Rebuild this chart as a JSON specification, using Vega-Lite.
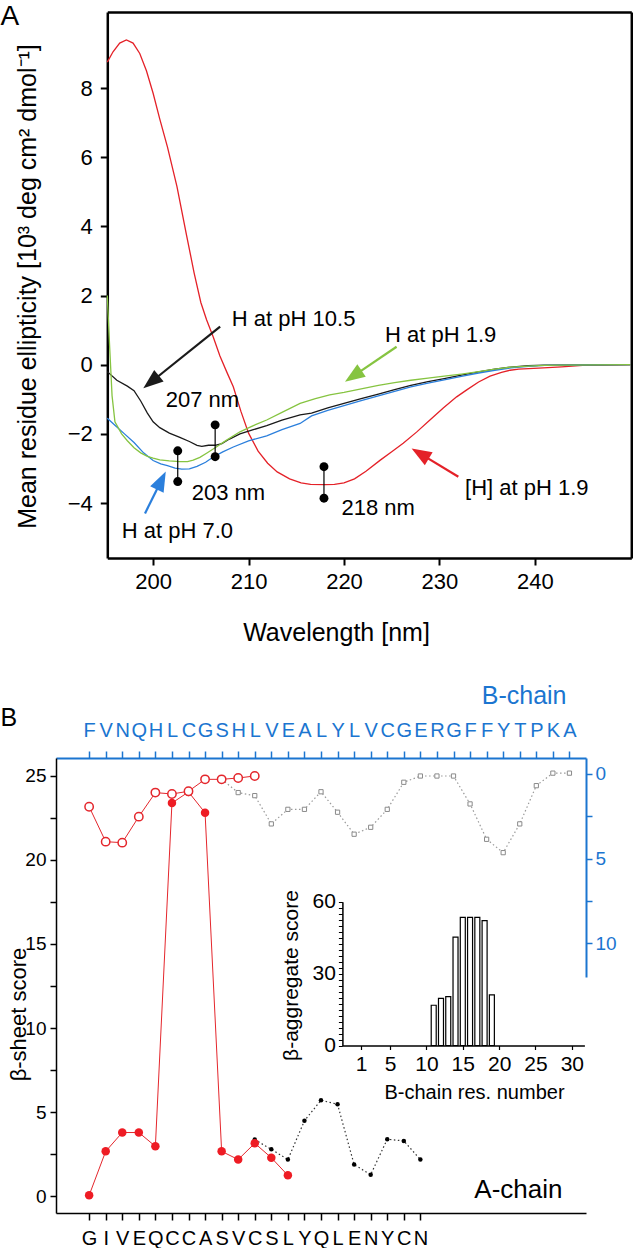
{
  "$schema": "https://vega.github.io/schema/vega-lite/v6.json",
  "padding": {"top": 2, "left": 0, "right": 0, "bottom": 0},
  "background": "white",
  "config": {
    "font": "Liberation Sans",
    "view": {"stroke": null},
    "axis": {"grid": false, "titleFontWeight": "normal", "labelColor": "black", "titleColor": "black", "tickColor": "black", "domainColor": "black", "labelOverlap": false, "labelFlush": false},
    "title": {"fontWeight": "normal", "color": "black"}
  },
  "datasets": {
    "cd": [
      {"wl":195.2,"mre":8.75,"s":"[H] at pH 1.9"},{"wl":195.8,"mre":9.05,"s":"[H] at pH 1.9"},{"wl":196.5,"mre":9.3,"s":"[H] at pH 1.9"},{"wl":197.2,"mre":9.39,"s":"[H] at pH 1.9"},{"wl":197.9,"mre":9.3,"s":"[H] at pH 1.9"},{"wl":198.6,"mre":9.0,"s":"[H] at pH 1.9"},{"wl":199.3,"mre":8.5,"s":"[H] at pH 1.9"},{"wl":200.0,"mre":7.85,"s":"[H] at pH 1.9"},{"wl":200.7,"mre":7.1,"s":"[H] at pH 1.9"},{"wl":201.5,"mre":6.3,"s":"[H] at pH 1.9"},{"wl":202.5,"mre":5.15,"s":"[H] at pH 1.9"},{"wl":203.5,"mre":3.75,"s":"[H] at pH 1.9"},{"wl":204.3,"mre":2.65,"s":"[H] at pH 1.9"},{"wl":205.0,"mre":1.8,"s":"[H] at pH 1.9"},{"wl":205.6,"mre":1.3,"s":"[H] at pH 1.9"},{"wl":206.3,"mre":0.8,"s":"[H] at pH 1.9"},{"wl":207.0,"mre":0.25,"s":"[H] at pH 1.9"},{"wl":207.7,"mre":-0.2,"s":"[H] at pH 1.9"},{"wl":208.4,"mre":-0.64,"s":"[H] at pH 1.9"},{"wl":209.2,"mre":-1.35,"s":"[H] at pH 1.9"},{"wl":210.0,"mre":-1.98,"s":"[H] at pH 1.9"},{"wl":211.0,"mre":-2.5,"s":"[H] at pH 1.9"},{"wl":212.0,"mre":-2.85,"s":"[H] at pH 1.9"},{"wl":213.0,"mre":-3.1,"s":"[H] at pH 1.9"},{"wl":214.3,"mre":-3.3,"s":"[H] at pH 1.9"},{"wl":215.5,"mre":-3.42,"s":"[H] at pH 1.9"},{"wl":216.5,"mre":-3.46,"s":"[H] at pH 1.9"},{"wl":218.0,"mre":-3.47,"s":"[H] at pH 1.9"},{"wl":219.0,"mre":-3.46,"s":"[H] at pH 1.9"},{"wl":220.0,"mre":-3.42,"s":"[H] at pH 1.9"},{"wl":221.1,"mre":-3.3,"s":"[H] at pH 1.9"},{"wl":222.3,"mre":-3.08,"s":"[H] at pH 1.9"},{"wl":223.8,"mre":-2.76,"s":"[H] at pH 1.9"},{"wl":225.0,"mre":-2.52,"s":"[H] at pH 1.9"},{"wl":226.2,"mre":-2.27,"s":"[H] at pH 1.9"},{"wl":227.6,"mre":-1.95,"s":"[H] at pH 1.9"},{"wl":229.0,"mre":-1.6,"s":"[H] at pH 1.9"},{"wl":230.4,"mre":-1.25,"s":"[H] at pH 1.9"},{"wl":231.8,"mre":-0.93,"s":"[H] at pH 1.9"},{"wl":232.9,"mre":-0.72,"s":"[H] at pH 1.9"},{"wl":234.1,"mre":-0.5,"s":"[H] at pH 1.9"},{"wl":235.3,"mre":-0.33,"s":"[H] at pH 1.9"},{"wl":236.5,"mre":-0.22,"s":"[H] at pH 1.9"},{"wl":237.4,"mre":-0.16,"s":"[H] at pH 1.9"},{"wl":238.3,"mre":-0.13,"s":"[H] at pH 1.9"},{"wl":240.4,"mre":-0.1,"s":"[H] at pH 1.9"},{"wl":242.8,"mre":-0.06,"s":"[H] at pH 1.9"},{"wl":245.0,"mre":-0.02,"s":"[H] at pH 1.9"},{"wl":247.0,"mre":-0.01,"s":"[H] at pH 1.9"},{"wl":250.0,"mre":0,"s":"[H] at pH 1.9"},
      {"wl":195.2,"mre":-0.2,"s":"H at pH 10.5"},{"wl":196.2,"mre":-0.45,"s":"H at pH 10.5"},{"wl":197.3,"mre":-0.62,"s":"H at pH 10.5"},{"wl":198.0,"mre":-0.75,"s":"H at pH 10.5"},{"wl":198.7,"mre":-1.05,"s":"H at pH 10.5"},{"wl":199.4,"mre":-1.4,"s":"H at pH 10.5"},{"wl":200.0,"mre":-1.65,"s":"H at pH 10.5"},{"wl":200.7,"mre":-1.82,"s":"H at pH 10.5"},{"wl":201.7,"mre":-1.98,"s":"H at pH 10.5"},{"wl":202.8,"mre":-2.1,"s":"H at pH 10.5"},{"wl":203.8,"mre":-2.22,"s":"H at pH 10.5"},{"wl":204.6,"mre":-2.33,"s":"H at pH 10.5"},{"wl":205.1,"mre":-2.36,"s":"H at pH 10.5"},{"wl":205.8,"mre":-2.33,"s":"H at pH 10.5"},{"wl":206.5,"mre":-2.33,"s":"H at pH 10.5"},{"wl":207.2,"mre":-2.28,"s":"H at pH 10.5"},{"wl":208.0,"mre":-2.15,"s":"H at pH 10.5"},{"wl":209.1,"mre":-2.0,"s":"H at pH 10.5"},{"wl":210.5,"mre":-1.88,"s":"H at pH 10.5"},{"wl":211.9,"mre":-1.76,"s":"H at pH 10.5"},{"wl":213.5,"mre":-1.6,"s":"H at pH 10.5"},{"wl":215.4,"mre":-1.45,"s":"H at pH 10.5"},{"wl":216.6,"mre":-1.4,"s":"H at pH 10.5"},{"wl":218.3,"mre":-1.25,"s":"H at pH 10.5"},{"wl":220.0,"mre":-1.12,"s":"H at pH 10.5"},{"wl":221.8,"mre":-0.98,"s":"H at pH 10.5"},{"wl":223.6,"mre":-0.85,"s":"H at pH 10.5"},{"wl":225.3,"mre":-0.72,"s":"H at pH 10.5"},{"wl":227.0,"mre":-0.6,"s":"H at pH 10.5"},{"wl":228.8,"mre":-0.49,"s":"H at pH 10.5"},{"wl":230.5,"mre":-0.4,"s":"H at pH 10.5"},{"wl":232.3,"mre":-0.3,"s":"H at pH 10.5"},{"wl":234.1,"mre":-0.21,"s":"H at pH 10.5"},{"wl":235.8,"mre":-0.13,"s":"H at pH 10.5"},{"wl":237.5,"mre":-0.07,"s":"H at pH 10.5"},{"wl":239.3,"mre":-0.03,"s":"H at pH 10.5"},{"wl":241.0,"mre":-0.01,"s":"H at pH 10.5"},{"wl":250.0,"mre":0,"s":"H at pH 10.5"},
      {"wl":195.2,"mre":-1.55,"s":"H at pH 7.0"},{"wl":196.0,"mre":-1.75,"s":"H at pH 7.0"},{"wl":197.0,"mre":-2.0,"s":"H at pH 7.0"},{"wl":198.0,"mre":-2.25,"s":"H at pH 7.0"},{"wl":199.0,"mre":-2.55,"s":"H at pH 7.0"},{"wl":200.0,"mre":-2.77,"s":"H at pH 7.0"},{"wl":200.8,"mre":-2.87,"s":"H at pH 7.0"},{"wl":201.5,"mre":-2.92,"s":"H at pH 7.0"},{"wl":202.3,"mre":-2.99,"s":"H at pH 7.0"},{"wl":203.0,"mre":-3.02,"s":"H at pH 7.0"},{"wl":203.8,"mre":-3.01,"s":"H at pH 7.0"},{"wl":204.6,"mre":-2.94,"s":"H at pH 7.0"},{"wl":205.5,"mre":-2.82,"s":"H at pH 7.0"},{"wl":206.3,"mre":-2.67,"s":"H at pH 7.0"},{"wl":207.3,"mre":-2.52,"s":"H at pH 7.0"},{"wl":208.4,"mre":-2.38,"s":"H at pH 7.0"},{"wl":210.0,"mre":-2.2,"s":"H at pH 7.0"},{"wl":211.9,"mre":-2.06,"s":"H at pH 7.0"},{"wl":213.5,"mre":-1.88,"s":"H at pH 7.0"},{"wl":215.4,"mre":-1.7,"s":"H at pH 7.0"},{"wl":216.6,"mre":-1.48,"s":"H at pH 7.0"},{"wl":218.3,"mre":-1.32,"s":"H at pH 7.0"},{"wl":220.0,"mre":-1.18,"s":"H at pH 7.0"},{"wl":221.8,"mre":-1.04,"s":"H at pH 7.0"},{"wl":223.6,"mre":-0.9,"s":"H at pH 7.0"},{"wl":225.3,"mre":-0.77,"s":"H at pH 7.0"},{"wl":227.0,"mre":-0.64,"s":"H at pH 7.0"},{"wl":228.8,"mre":-0.53,"s":"H at pH 7.0"},{"wl":230.5,"mre":-0.44,"s":"H at pH 7.0"},{"wl":232.3,"mre":-0.34,"s":"H at pH 7.0"},{"wl":234.1,"mre":-0.24,"s":"H at pH 7.0"},{"wl":235.8,"mre":-0.16,"s":"H at pH 7.0"},{"wl":237.5,"mre":-0.09,"s":"H at pH 7.0"},{"wl":239.3,"mre":-0.05,"s":"H at pH 7.0"},{"wl":241.0,"mre":-0.02,"s":"H at pH 7.0"},{"wl":243.0,"mre":-0.01,"s":"H at pH 7.0"},{"wl":250.0,"mre":0,"s":"H at pH 7.0"},
      {"wl":195.2,"mre":2.0,"s":"H at pH 1.9"},{"wl":195.45,"mre":0.5,"s":"H at pH 1.9"},{"wl":195.7,"mre":-0.9,"s":"H at pH 1.9"},{"wl":196.0,"mre":-1.65,"s":"H at pH 1.9"},{"wl":196.7,"mre":-2.0,"s":"H at pH 1.9"},{"wl":197.3,"mre":-2.2,"s":"H at pH 1.9"},{"wl":198.0,"mre":-2.4,"s":"H at pH 1.9"},{"wl":198.7,"mre":-2.55,"s":"H at pH 1.9"},{"wl":199.4,"mre":-2.65,"s":"H at pH 1.9"},{"wl":200.0,"mre":-2.7,"s":"H at pH 1.9"},{"wl":200.7,"mre":-2.75,"s":"H at pH 1.9"},{"wl":201.7,"mre":-2.78,"s":"H at pH 1.9"},{"wl":202.8,"mre":-2.8,"s":"H at pH 1.9"},{"wl":203.6,"mre":-2.8,"s":"H at pH 1.9"},{"wl":204.2,"mre":-2.76,"s":"H at pH 1.9"},{"wl":204.9,"mre":-2.68,"s":"H at pH 1.9"},{"wl":205.6,"mre":-2.56,"s":"H at pH 1.9"},{"wl":206.5,"mre":-2.4,"s":"H at pH 1.9"},{"wl":207.7,"mre":-2.18,"s":"H at pH 1.9"},{"wl":209.1,"mre":-1.94,"s":"H at pH 1.9"},{"wl":210.5,"mre":-1.76,"s":"H at pH 1.9"},{"wl":211.9,"mre":-1.6,"s":"H at pH 1.9"},{"wl":213.5,"mre":-1.38,"s":"H at pH 1.9"},{"wl":215.4,"mre":-1.12,"s":"H at pH 1.9"},{"wl":217.0,"mre":-0.98,"s":"H at pH 1.9"},{"wl":218.5,"mre":-0.87,"s":"H at pH 1.9"},{"wl":220.0,"mre":-0.8,"s":"H at pH 1.9"},{"wl":221.8,"mre":-0.7,"s":"H at pH 1.9"},{"wl":223.6,"mre":-0.6,"s":"H at pH 1.9"},{"wl":225.3,"mre":-0.52,"s":"H at pH 1.9"},{"wl":227.0,"mre":-0.45,"s":"H at pH 1.9"},{"wl":228.8,"mre":-0.39,"s":"H at pH 1.9"},{"wl":230.5,"mre":-0.33,"s":"H at pH 1.9"},{"wl":232.3,"mre":-0.27,"s":"H at pH 1.9"},{"wl":234.1,"mre":-0.2,"s":"H at pH 1.9"},{"wl":235.8,"mre":-0.13,"s":"H at pH 1.9"},{"wl":237.5,"mre":-0.07,"s":"H at pH 1.9"},{"wl":239.3,"mre":-0.04,"s":"H at pH 1.9"},{"wl":241.0,"mre":-0.02,"s":"H at pH 1.9"},{"wl":243.0,"mre":-0.01,"s":"H at pH 1.9"},{"wl":250.0,"mre":0,"s":"H at pH 1.9"}
    ],
    "dumbbells": [
      {"wl":202.58,"top":-2.49,"bottom":-3.38},
      {"wl":206.5,"top":-1.74,"bottom":-2.66},
      {"wl":217.9,"top":-2.95,"bottom":-3.86}
    ],
    "arrows": [
      {"s":"H at pH 10.5","x1":207.02,"y1":1.10,"x2":199.79,"y2":-0.50},
      {"s":"H at pH 1.9","x1":225.51,"y1":0.52,"x2":220.97,"y2":-0.33},
      {"s":"[H] at pH 1.9","x1":231.98,"y1":-3.24,"x2":227.98,"y2":-2.57},
      {"s":"H at pH 7.0","x1":199.15,"y1":-4.30,"x2":200.86,"y2":-3.35}
    ],
    "notes": [
      {"label":"H at pH 10.5","x":208.25,"y":1.12},
      {"label":"207 nm","x":201.32,"y":-1.21},
      {"label":"H at pH 1.9","x":224.29,"y":0.67},
      {"label":"[H] at pH 1.9","x":232.68,"y":-3.77},
      {"label":"203 nm","x":204.05,"y":-3.91},
      {"label":"218 nm","x":219.74,"y":-4.35},
      {"label":"H at pH 7.0","x":196.71,"y":-5.02}
    ],
    "aChain": [
      {"pos":1,"score":0.04},{"pos":2,"score":2.66},{"pos":3,"score":3.78},{"pos":4,"score":3.78},{"pos":5,"score":2.96},{"pos":6,"score":23.39},{"pos":7,"score":24.05},{"pos":8,"score":22.81},{"pos":9,"score":2.66},{"pos":10,"score":2.17},{"pos":11,"score":3.14},{"pos":12,"score":2.28},{"pos":13,"score":1.23}
    ],
    "aChainAlt": [
      {"pos":11,"score":3.36},{"pos":12,"score":2.78},{"pos":13,"score":2.17},{"pos":14,"score":4.48},{"pos":15,"score":5.7},{"pos":16,"score":5.46},{"pos":17,"score":1.87},{"pos":18,"score":1.27},{"pos":19,"score":3.38},{"pos":20,"score":3.28},{"pos":21,"score":2.17}
    ],
    "bChainOpen": [
      {"pos":1,"score":23.17},{"pos":2,"score":21.09},{"pos":3,"score":21.03},{"pos":4,"score":22.58},{"pos":5,"score":24.01},{"pos":6,"score":23.93},{"pos":7,"score":24.09},{"pos":8,"score":24.8},{"pos":9,"score":24.8},{"pos":10,"score":24.88},{"pos":11,"score":25.0}
    ],
    "bChainSheet": [
      {"pos":9,"score":0.31},{"pos":10,"score":1.1},{"pos":11,"score":1.28},{"pos":12,"score":2.95},{"pos":13,"score":2.09},{"pos":14,"score":2.09},{"pos":15,"score":1.05},{"pos":16,"score":2.26},{"pos":17,"score":3.56},{"pos":18,"score":3.15},{"pos":19,"score":2.09},{"pos":20,"score":0.49},{"pos":21,"score":0.12},{"pos":22,"score":0.12},{"pos":23,"score":0.12},{"pos":24,"score":1.77},{"pos":25,"score":3.86},{"pos":26,"score":4.65},{"pos":27,"score":2.95},{"pos":28,"score":0.69},{"pos":29,"score":-0.05},{"pos":30,"score":-0.05}
    ],
    "aggregate": [
      {"res":11,"score":16.8},{"res":12,"score":19.7},{"res":13,"score":20.4},{"res":14,"score":45.2},{"res":15,"score":53.5},{"res":16,"score":53.5},{"res":17,"score":53.5},{"res":18,"score":52.1},{"res":19,"score":21.1}
    ]
  },
  "columns": 1,
  "spacing": 38,
  "concat": [
    {
      "width": 575.3,
      "height": 546,
      "resolve": {"scale": {"x": "independent", "y": "independent"}, "axis": {"x": "independent", "y": "independent"}},
      "layer": [
        {
          "data": {"name": "cd"},
          "mark": {"type": "line", "strokeWidth": 1.3},
          "encoding": {
            "x": {"field": "wl", "type": "quantitative", "scale": {"domain": [195.2, 250.1], "range": [51.3, 575.3], "nice": false, "zero": false},
              "axis": {"orient": "bottom", "values": [200,210,220,230,240], "domain": true, "domainWidth": 2.5, "tickSize": 7, "tickWidth": 2, "labelFontSize": 22, "labelPadding": 6, "title": "Wavelength [nm]", "titleFontSize": 25, "titlePadding": 28, "titleX": 280, "titleAlign": "center"}},
            "y": {"field": "mre", "type": "quantitative", "scale": {"domain": [-5.59, 10.2], "nice": false, "zero": false},
              "axis": {"orient": "left", "offset": -51.3, "values": [-4,-2,0,2,4,6,8], "domain": true, "domainWidth": 2.5, "tickSize": 7, "tickWidth": 2, "labelFontSize": 22, "labelPadding": 8, "title": "Mean residue ellipticity [10³ deg cm² dmol⁻¹]", "titleFontSize": 25, "titleX": -72, "titleY": 274, "titleAngle": -90, "titleAlign": "center", "titleBaseline": "alphabetic"}},
            "color": {"field": "s", "type": "nominal", "scale": {"domain": ["H at pH 1.9","H at pH 7.0","H at pH 10.5","[H] at pH 1.9"], "range": ["#86c441","#2b7fdc","#1a1a1a","#e42128"]}, "legend": null}
          }
        },
        {
          "data": {"name": "dumbbells"},
          "mark": {"type": "rule", "color": "black", "strokeWidth": 1.2},
          "encoding": {
            "x": {"field": "wl", "type": "quantitative", "scale": {"domain": [195.2, 250.1], "range": [51.3, 575.3], "nice": false, "zero": false},
              "axis": {"orient": "top", "domain": true, "domainWidth": 2.5, "ticks": false, "labels": false, "title": null}},
            "y": {"field": "top", "type": "quantitative", "scale": {"domain": [-5.59, 10.2], "nice": false, "zero": false},
              "axis": {"orient": "right", "domain": true, "domainWidth": 2.5, "ticks": false, "labels": false, "title": "A", "titleFontSize": 28, "titleAngle": 0, "titleX": -631.3, "titleY": 12, "titleAlign": "left", "titleBaseline": "alphabetic", "titleColor": "black"}},
            "y2": {"field": "bottom"}
          }
        },
        {
          "data": {"name": "dumbbells"},
          "mark": {"type": "point", "filled": true, "color": "black", "size": 80, "opacity": 1},
          "encoding": {
            "x": {"field": "wl", "type": "quantitative", "scale": {"domain": [195.2, 250.1], "range": [51.3, 575.3], "nice": false, "zero": false}, "axis": null},
            "y": {"field": "top", "type": "quantitative", "scale": {"domain": [-5.59, 10.2], "nice": false, "zero": false}, "axis": null}
          }
        },
        {
          "data": {"name": "dumbbells"},
          "mark": {"type": "point", "filled": true, "color": "black", "size": 80, "opacity": 1},
          "encoding": {
            "x": {"field": "wl", "type": "quantitative", "scale": {"domain": [195.2, 250.1], "range": [51.3, 575.3], "nice": false, "zero": false}, "axis": null},
            "y": {"field": "bottom", "type": "quantitative", "scale": {"domain": [-5.59, 10.2], "nice": false, "zero": false}, "axis": null}
          }
        },
        {
          "data": {"name": "arrows"},
          "mark": {"type": "rule", "strokeWidth": 2.2},
          "encoding": {
            "x": {"field": "x1", "type": "quantitative", "scale": {"domain": [195.2, 250.1], "range": [51.3, 575.3], "nice": false, "zero": false}, "axis": null},
            "y": {"field": "y1", "type": "quantitative", "scale": {"domain": [-5.59, 10.2], "nice": false, "zero": false}, "axis": null},
            "x2": {"field": "x2"},
            "y2": {"field": "y2"},
            "color": {"field": "s", "type": "nominal", "legend": null}
          }
        },
        {
          "data": {"name": "arrows"},
          "transform": [{"filter": "datum.s === 'H at pH 10.5'"}],
          "mark": {"type": "point", "shape": "M0,-1L0.75,1L-0.75,1Z", "filled": true, "opacity": 1, "size": 400, "angle": 231.2},
          "encoding": {
            "x": {"field": "x2", "type": "quantitative", "scale": {"domain": [195.2, 250.1], "range": [51.3, 575.3], "nice": false, "zero": false}, "axis": null},
            "y": {"field": "y2", "type": "quantitative", "scale": {"domain": [-5.59, 10.2], "nice": false, "zero": false}, "axis": null},
            "color": {"field": "s", "type": "nominal", "legend": null}
          }
        },
        {
          "data": {"name": "arrows"},
          "transform": [{"filter": "datum.s === 'H at pH 1.9'"}],
          "mark": {"type": "point", "shape": "M0,-1L0.75,1L-0.75,1Z", "filled": true, "opacity": 1, "size": 400, "angle": 235.9},
          "encoding": {
            "x": {"field": "x2", "type": "quantitative", "scale": {"domain": [195.2, 250.1], "range": [51.3, 575.3], "nice": false, "zero": false}, "axis": null},
            "y": {"field": "y2", "type": "quantitative", "scale": {"domain": [-5.59, 10.2], "nice": false, "zero": false}, "axis": null},
            "color": {"field": "s", "type": "nominal", "legend": null}
          }
        },
        {
          "data": {"name": "arrows"},
          "transform": [{"filter": "datum.s === '[H] at pH 1.9'"}],
          "mark": {"type": "point", "shape": "M0,-1L0.75,1L-0.75,1Z", "filled": true, "opacity": 1, "size": 400, "angle": 301.3},
          "encoding": {
            "x": {"field": "x2", "type": "quantitative", "scale": {"domain": [195.2, 250.1], "range": [51.3, 575.3], "nice": false, "zero": false}, "axis": null},
            "y": {"field": "y2", "type": "quantitative", "scale": {"domain": [-5.59, 10.2], "nice": false, "zero": false}, "axis": null},
            "color": {"field": "s", "type": "nominal", "legend": null}
          }
        },
        {
          "data": {"name": "arrows"},
          "transform": [{"filter": "datum.s === 'H at pH 7.0'"}],
          "mark": {"type": "point", "shape": "M0,-1L0.75,1L-0.75,1Z", "filled": true, "opacity": 1, "size": 400, "angle": 26.4},
          "encoding": {
            "x": {"field": "x2", "type": "quantitative", "scale": {"domain": [195.2, 250.1], "range": [51.3, 575.3], "nice": false, "zero": false}, "axis": null},
            "y": {"field": "y2", "type": "quantitative", "scale": {"domain": [-5.59, 10.2], "nice": false, "zero": false}, "axis": null},
            "color": {"field": "s", "type": "nominal", "legend": null}
          }
        },
        {
          "data": {"name": "notes"},
          "mark": {"type": "text", "align": "left", "baseline": "alphabetic", "fontSize": 22, "color": "black"},
          "encoding": {
            "x": {"field": "x", "type": "quantitative", "scale": {"domain": [195.2, 250.1], "range": [51.3, 575.3], "nice": false, "zero": false}, "axis": null},
            "y": {"field": "y", "type": "quantitative", "scale": {"domain": [-5.59, 10.2], "nice": false, "zero": false}, "axis": null},
            "text": {"field": "label"}
          }
        }
      ]
    },
    {
      "width": 530,
      "height": 455,
      "resolve": {"scale": {"x": "independent", "y": "independent"}, "axis": {"x": "independent", "y": "independent"}},
      "layer": [
        {
          "data": {"name": "aChain"},
          "mark": {"type": "line", "color": "#e4262c", "strokeWidth": 1},
          "encoding": {
            "x": {"field": "pos", "type": "quantitative", "scale": {"domain": [-1, 31], "nice": false, "zero": false},
              "axis": {"orient": "bottom", "values": [1,2,3,4,5,6,7,8,9,10,11,12,13,14,15,16,17,18,19,20,21], "labelExpr": "substring('GIVEQCCASVCSLYQLENYCN', datum.value - 1, datum.value)", "domainWidth": 1.5, "tickSize": 7, "tickWidth": 1.5, "labelFontSize": 20, "labelFont": "Liberation Sans Narrow, Liberation Sans", "labelPadding": 8, "labelAngle": 0, "title": "A-chain", "titleFontSize": 26, "titleX": 506, "titleY": -16, "titleAlign": "right", "titleBaseline": "alphabetic"}},
            "y": {"field": "score", "type": "quantitative", "scale": {"domain": [-1.01, 26.07], "nice": false, "zero": false},
              "axis": {"orient": "left", "values": [0,2.5,5,7.5,10,12.5,15,17.5,20,22.5,25], "labelExpr": "datum.value % 5 === 0 ? datum.label : ''", "domainWidth": 1.5, "tickSize": 6, "tickWidth": 1.5, "labelFontSize": 19, "labelPadding": 4, "title": "β-sheet score", "titleFontSize": 22, "titleX": -31, "titleY": 256, "titleAngle": -90, "titleAlign": "center", "titleBaseline": "alphabetic"}}
          }
        },
        {
          "data": {"name": "aChainAlt"},
          "mark": {"type": "line", "color": "#333333", "strokeWidth": 1.2, "strokeDash": [1.5, 2.5]},
          "encoding": {
            "x": {"field": "pos", "type": "quantitative", "scale": {"domain": [-1, 31], "nice": false, "zero": false}, "axis": null},
            "y": {"field": "score", "type": "quantitative", "scale": {"domain": [-1.01, 26.07], "nice": false, "zero": false}, "axis": null}
          }
        },
        {
          "data": {"name": "aChainAlt"},
          "mark": {"type": "point", "filled": true, "color": "black", "size": 20, "opacity": 1},
          "encoding": {
            "x": {"field": "pos", "type": "quantitative", "scale": {"domain": [-1, 31], "nice": false, "zero": false}, "axis": null},
            "y": {"field": "score", "type": "quantitative", "scale": {"domain": [-1.01, 26.07], "nice": false, "zero": false}, "axis": null}
          }
        },
        {
          "data": {"name": "aChain"},
          "mark": {"type": "point", "filled": true, "color": "#ee1c24", "size": 72, "opacity": 1},
          "encoding": {
            "x": {"field": "pos", "type": "quantitative", "scale": {"domain": [-1, 31], "nice": false, "zero": false}, "axis": null},
            "y": {"field": "score", "type": "quantitative", "scale": {"domain": [-1.01, 26.07], "nice": false, "zero": false}, "axis": null}
          }
        },
        {
          "data": {"name": "bChainSheet"},
          "mark": {"type": "line", "color": "#9a9a9a", "strokeWidth": 1.2, "strokeDash": [1.5, 2.5]},
          "encoding": {
            "x": {"field": "pos", "type": "quantitative", "scale": {"domain": [-1, 31], "nice": false, "zero": false},
              "axis": {"orient": "top", "values": [1,2,3,4,5,6,7,8,9,10,11,12,13,14,15,16,17,18,19,20,21,22,23,24,25,26,27,28,29,30], "labelExpr": "substring('FVNQHLCGSHLVEALYLVCGERGFFYTPKA', datum.value - 1, datum.value)", "domainColor": "#1b75d0", "domainWidth": 2, "tickColor": "#1b75d0", "tickSize": 7, "tickWidth": 1.5, "labelColor": "#1b75d0", "labelFontSize": 20, "labelFont": "Liberation Sans Narrow, Liberation Sans", "labelPadding": 11, "labelAngle": 0, "title": "B-chain", "titleColor": "#1b75d0", "titleFontSize": 25, "titleX": 510, "titleY": -55, "titleAlign": "right", "titleBaseline": "alphabetic"}},
            "y": {"field": "score", "type": "quantitative", "scale": {"domain": [-0.945, 12], "range": [0, 219], "nice": false, "zero": false},
              "axis": {"orient": "right", "values": [0,2.5,5,7.5,10], "labelExpr": "datum.value % 5 === 0 ? datum.label : ''", "domainColor": "#1b75d0", "domainWidth": 2, "tickColor": "#1b75d0", "tickSize": 6, "tickWidth": 1.5, "labelColor": "#1b75d0", "labelFontSize": 19, "labelPadding": 3, "title": "B", "titleColor": "black", "titleFontSize": 25, "titleAngle": 0, "titleX": -586, "titleY": -33, "titleAlign": "left", "titleBaseline": "alphabetic"}}
          }
        },
        {
          "data": {"name": "bChainSheet"},
          "mark": {"type": "point", "shape": "square", "filled": true, "fill": "white", "stroke": "#8a8a8a", "strokeWidth": 1, "size": 18, "opacity": 1},
          "encoding": {
            "x": {"field": "pos", "type": "quantitative", "scale": {"domain": [-1, 31], "nice": false, "zero": false}, "axis": null},
            "y": {"field": "score", "type": "quantitative", "scale": {"domain": [-0.945, 12], "range": [0, 219], "nice": false, "zero": false}, "axis": null}
          }
        },
        {
          "data": {"name": "bChainOpen"},
          "mark": {"type": "line", "color": "#e4262c", "strokeWidth": 1},
          "encoding": {
            "x": {"field": "pos", "type": "quantitative", "scale": {"domain": [-1, 31], "nice": false, "zero": false}, "axis": null},
            "y": {"field": "score", "type": "quantitative", "scale": {"domain": [-1.01, 26.07], "nice": false, "zero": false}, "axis": null}
          }
        },
        {
          "data": {"name": "bChainOpen"},
          "mark": {"type": "point", "filled": true, "fill": "white", "stroke": "#e4262c", "strokeWidth": 1.5, "size": 70, "opacity": 1},
          "encoding": {
            "x": {"field": "pos", "type": "quantitative", "scale": {"domain": [-1, 31], "nice": false, "zero": false}, "axis": null},
            "y": {"field": "score", "type": "quantitative", "scale": {"domain": [-1.01, 26.07], "nice": false, "zero": false}, "axis": null}
          }
        },
        {
          "data": {"name": "aggregate"},
          "mark": {"type": "bar", "orient": "vertical", "width": 5, "fill": "white", "stroke": "black", "strokeWidth": 1.2},
          "encoding": {
            "x": {"field": "res", "type": "quantitative", "scale": {"domain": [-0.873, 31.04], "range": [286.4, 528.4], "nice": false, "zero": false},
              "axis": {"orient": "bottom", "offset": -167.5, "values": [1,5,10,15,20,25,30], "domainWidth": 1.5, "tickSize": 4, "tickWidth": 1.2, "labelFontSize": 21, "labelPadding": 4, "labelAngle": 0, "title": "B-chain res. number", "titleFontSize": 20, "titleX": 418, "titleY": 53, "titleAlign": "center", "titleBaseline": "alphabetic"}},
            "y": {"field": "score", "type": "quantitative", "scale": {"domain": [0, 60], "range": [287.5, 143.7], "nice": false, "zero": false},
              "axis": {"orient": "left", "offset": -286.4, "values": [0,2.5,5,7.5,10,12.5,15,17.5,20,22.5,25,27.5,30,32.5,35,37.5,40,42.5,45,47.5,50,52.5,55,57.5,60], "labelExpr": "datum.value % 30 === 0 ? datum.label : ''", "domainWidth": 1.5, "tickSize": 4, "tickWidth": 1, "labelFontSize": 21, "labelPadding": 3, "title": "β-aggregate score", "titleFontSize": 21, "titleX": -45, "titleY": 217, "titleAngle": -90, "titleAlign": "center", "titleBaseline": "alphabetic"}}
          }
        }
      ]
    }
  ]
}
